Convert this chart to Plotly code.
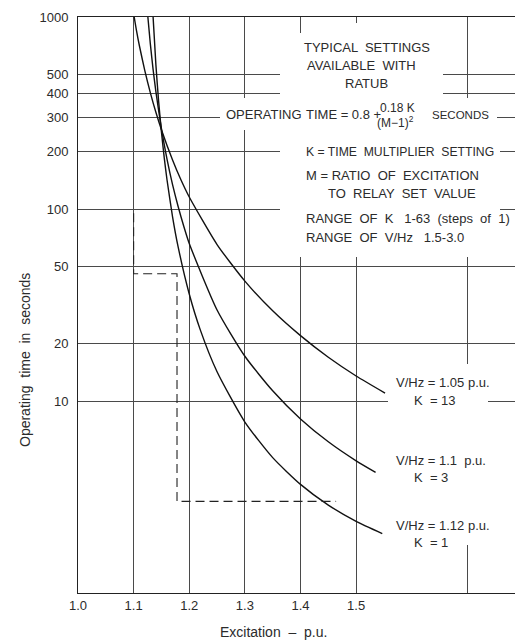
import plotly.graph_objects as go

# ---- data ----
c1_x = [1.101, 1.105, 1.11, 1.12, 1.13, 1.14, 1.15, 1.17, 1.185, 1.20, 1.25, 1.30, 1.35, 1.40, 1.45, 1.50, 1.552]
c1_y = [1000, 854, 717, 527, 404, 319, 259, 180, 142, 115.5, 65.3, 42.1, 29.5, 21.9, 16.9, 13.5, 11.0]
c2_x = [1.1256, 1.13, 1.135, 1.14, 1.15, 1.16, 1.17, 1.18, 1.19, 1.20, 1.25, 1.30, 1.35, 1.40, 1.45, 1.50, 1.535]
c2_y = [1000, 727, 534, 409, 262, 182, 134, 103, 81.5, 66.1, 29.8, 17.1, 11.3, 8.06, 6.13, 4.88, 4.25]
c3_x = [1.135, 1.14, 1.145, 1.15, 1.155, 1.16, 1.17, 1.18, 1.20, 1.22, 1.25, 1.30, 1.35, 1.40, 1.45, 1.50, 1.547]
c3_y = [1000, 565, 362, 252, 185, 142, 91.1, 63.5, 36.1, 23.4, 14.2, 7.77, 5.07, 3.68, 2.87, 2.36, 2.04]

dash_x = [1.1, 1.1, 1.178, 1.178, 1.464]
dash_y = [95, 46, 46, 3.0, 3.0]

x_ticks = [1.0, 1.1, 1.2, 1.3, 1.4, 1.5]
x_ticktext = ["1.0", "1.1", "1.2", "1.3", "1.4", "1.5"]
x_minor_grid = [1.7]
y_ticks = [10, 20, 50, 100, 200, 300, 400, 500, 1000]
y_ticktext = ["10", "20", "50", "100", "200", "300", "400", "500", "1000"]

curve_labels = [
    ("V/Hz = 1.05 p.u.", "K  = 13"),
    ("V/Hz = 1.1  p.u.", "K  = 3"),
    ("V/Hz = 1.12 p.u.", "K  = 1"),
]

# ---- layout geometry (screen pixels; page body has an 8px margin) ----
OFF = 8
SW, SH = 523, 641
W, H = SW - OFF, SH - OFF
ML, MR, MT, MB = 78 - OFF, 0, 17 - OFF, 48
PW, PH = W - ML - MR, H - MT - MB
X0S, Y1S = OFF + ML, OFF + H - MB  # screen left / bottom of plot area

def px(x):
    return (x - X0S) / PW

def py(y):
    return (Y1S - y) / PH

FONT = "Liberation Sans, Arial, sans-serif"
TXT = "#2b2b2b"
GRID = "#4a4a4a"

fig = go.Figure()
for xs, ys in [(c1_x, c1_y), (c2_x, c2_y), (c3_x, c3_y)]:
    fig.add_trace(go.Scatter(x=xs, y=ys, mode="lines",
                             line=dict(color="#111111", width=1.4, shape="spline", smoothing=0.6),
                             showlegend=False, hoverinfo="skip"))
fig.add_trace(go.Scatter(x=dash_x, y=dash_y, mode="lines",
                         line=dict(color="#222222", width=1.1, dash="9px,5px"),
                         showlegend=False, hoverinfo="skip"))

# white masks interrupting the grid behind the text (no curve passes there)
masks = [
    (280, 33, 443, 98), (330, 23, 443, 33),
    (220, 98, 497, 130), (280, 130, 500, 257),
    (388, 364, 488, 545),
]
for x0, y0, x1, y1 in masks:
    fig.add_shape(type="rect", xref="paper", yref="paper",
                  x0=px(x0), x1=px(x1), y0=py(y1), y1=py(y0),
                  fillcolor="white", line=dict(width=0), layer="above")

def txt(text, x, y, size=13, xanchor="left", **kw):
    fig.add_annotation(text=text, xref="paper", yref="paper", x=px(x), y=py(y),
                       xanchor=xanchor, yanchor="middle", showarrow=False,
                       font=dict(family=FONT, size=size, color=TXT), **kw)

txt("TYPICAL  SETTINGS", 367, 47, xanchor="center")
txt("AVAILABLE  WITH", 361, 65, xanchor="center")
txt("RATUB", 366, 84, xanchor="center")
txt("OPERATING", 224, 115)
txt("TIME = 0.8 +", 304, 115)
txt("0.18 K", 397, 108, size=12, xanchor="center")
txt("(M\u22121)<sup>2</sup>", 395, 122, size=12, xanchor="center")
txt("SECONDS", 430, 115, size=11.5)
txt("K = TIME  MULTIPLIER  SETTING", 304, 152, size=12.2)
txt("M = RATIO  OF  EXCITATION", 304, 175)
txt("TO  RELAY  SET  VALUE", 326, 193)
txt("RANGE  OF  K   1-63  (steps  of  1)", 304, 218)
txt("RANGE  OF  V/Hz   1.5-3.0", 304, 237)

label_y = [(382, 400), (460, 477), (525, 542)]
for (l1, l2), (y1, y2) in zip(curve_labels, label_y):
    txt(l1, 394, y1)
    txt(l2, 412, y2)

txt("Excitation  \u2013  p.u.", 273, 632, size=14, xanchor="center")
fig.add_annotation(text="Operating  time  in  seconds", xref="paper", yref="paper",
                   x=px(25), y=py(360), xanchor="center", yanchor="middle",
                   showarrow=False, textangle=-90,
                   font=dict(family=FONT, size=14, color=TXT))

fig.update_xaxes(range=[1.0, 1.8], tickvals=x_ticks, ticktext=x_ticktext,
                 showgrid=True, gridcolor=GRID, gridwidth=0.8,
                 minor=dict(tickvals=x_minor_grid, showgrid=True, gridcolor=GRID, gridwidth=0.8, ticks=""),
                 showline=True, linecolor="#222", linewidth=1, mirror=True,
                 ticks="", zeroline=False,
                 tickfont=dict(family=FONT, size=13, color=TXT))
fig.update_yaxes(type="log", range=[0, 3], tickvals=y_ticks, ticktext=y_ticktext,
                 showgrid=True, gridcolor=GRID, gridwidth=0.8,
                 showline=True, linecolor="#222", linewidth=1,
                 ticks="", zeroline=False, ticklabelstandoff=6,
                 tickfont=dict(family=FONT, size=13, color=TXT))
fig.update_layout(width=W, height=H, margin=dict(l=ML, r=MR, t=MT, b=MB),
                  plot_bgcolor="white", paper_bgcolor="white", showlegend=False)

fig.write_html("out.html")
